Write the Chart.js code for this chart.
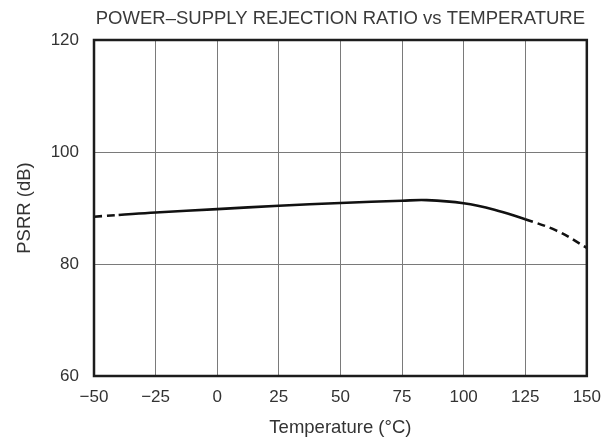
<!DOCTYPE html>
<html>
<head>
<meta charset="utf-8">
<script src="https://cdn.jsdelivr.net/npm/chart.js@4/dist/chart.umd.min.js"></script>
<style>
html,body{margin:0;padding:0;background:#fff;}
#wrap{width:612px;height:442px;position:relative;}
</style>
</head>
<body>
<div id="wrap"><canvas id="c" width="612" height="442"></canvas></div>
<script>
// ---- data ----
const titleText = 'POWER\u2013SUPPLY REJECTION RATIO vs TEMPERATURE';
const xTitle = 'Temperature (\u00B0C)';
const yTitle = 'PSRR (dB)';

const tempTicks = [-50, -25, 0, 25, 50, 75, 100, 125, 150];
const psrrTicks = [60, 80, 100, 120];

// dashed (extrapolated) low-temperature part
const lowTemp = [-50, -40];
const lowPsrr = [88.45, 88.75];
// solid (specified) part
const midTemp = [-40, -25, 0, 25, 50, 75, 85, 100, 112.5, 125];
const midPsrr = [88.75, 89.2, 89.8, 90.4, 90.9, 91.3, 91.4, 90.85, 89.7, 88.0];
// dashed high-temperature part
const highTemp = [125, 137.5, 150];
const highPsrr = [88.0, 86.0, 82.9];

function pts(xs, ys){ return xs.map((x,i)=>({x:x, y:ys[i]})); }

const FONT = '"Liberation Sans", Arial, Helvetica, sans-serif';
const TEXT = '#333333';

const framePlugin = {
  id: 'frame',
  afterDatasetsDraw(chart){
    const a = chart.chartArea, ctx = chart.ctx;
    ctx.save();
    ctx.strokeStyle = '#1c1c1c';
    ctx.lineWidth = 2.5;
    ctx.strokeRect(a.left, a.top, a.right - a.left, a.bottom - a.top);
    ctx.restore();
  }
};

const lineStyle = {
  borderColor: '#111111',
  borderWidth: 2.6,
  pointRadius: 0,
  showLine: true,
  fill: false,
  tension: 0.4
};

new Chart(document.getElementById('c'), {
  type: 'scatter',
  data: {
    datasets: [
      Object.assign({ data: pts(lowTemp, lowPsrr), borderDash: [8, 5] }, lineStyle),
      Object.assign({ data: pts(midTemp, midPsrr) }, lineStyle),
      Object.assign({ data: pts(highTemp, highPsrr), borderDash: [8, 5] }, lineStyle)
    ]
  },
  options: {
    responsive: false,
    animation: false,
    devicePixelRatio: 1,
    layout: { padding: { left: 0, right: 22, top: 0, bottom: 0 } },
    plugins: {
      legend: { display: false },
      tooltip: { enabled: false },
      title: {
        display: true,
        text: titleText,
        fullSize: false,
        color: '#3a3a3a',
        font: { family: FONT, size: 18.5, weight: 'normal' },
        padding: { top: 7.4, bottom: 10.4 }
      }
    },
    scales: {
      x: {
        type: 'linear',
        min: tempTicks[0],
        max: tempTicks[tempTicks.length - 1],
        afterBuildTicks(s){ s.ticks = tempTicks.map(v => ({ value: v })); },
        afterFit(s){ s.height = 66; },
        grid: { color: '#7a7a7a', lineWidth: 1, drawTicks: false },
        border: { display: false },
        ticks: {
          color: TEXT,
          padding: 11,
          maxRotation: 0,
          autoSkip: false,
          font: { family: FONT, size: 17 },
          callback: v => String(v).replace('-', '\u2212')
        },
        title: {
          display: true,
          text: xTitle,
          color: TEXT,
          font: { family: FONT, size: 18.5 },
          padding: { top: 0, bottom: 3 }
        }
      },
      y: {
        type: 'linear',
        min: psrrTicks[0],
        max: psrrTicks[psrrTicks.length - 1],
        afterBuildTicks(s){ s.ticks = psrrTicks.map(v => ({ value: v })); },
        afterFit(s){ s.width = 94; },
        grid: { color: '#7a7a7a', lineWidth: 1, drawTicks: false },
        border: { display: false },
        ticks: {
          color: TEXT,
          padding: 15,
          autoSkip: false,
          font: { family: FONT, size: 17 }
        },
        title: {
          display: true,
          text: yTitle,
          color: TEXT,
          font: { family: FONT, size: 18.5 },
          padding: { top: 13.4, bottom: 0 }
        }
      }
    }
  },
  plugins: [framePlugin]
});
</script>
</body>
</html>
